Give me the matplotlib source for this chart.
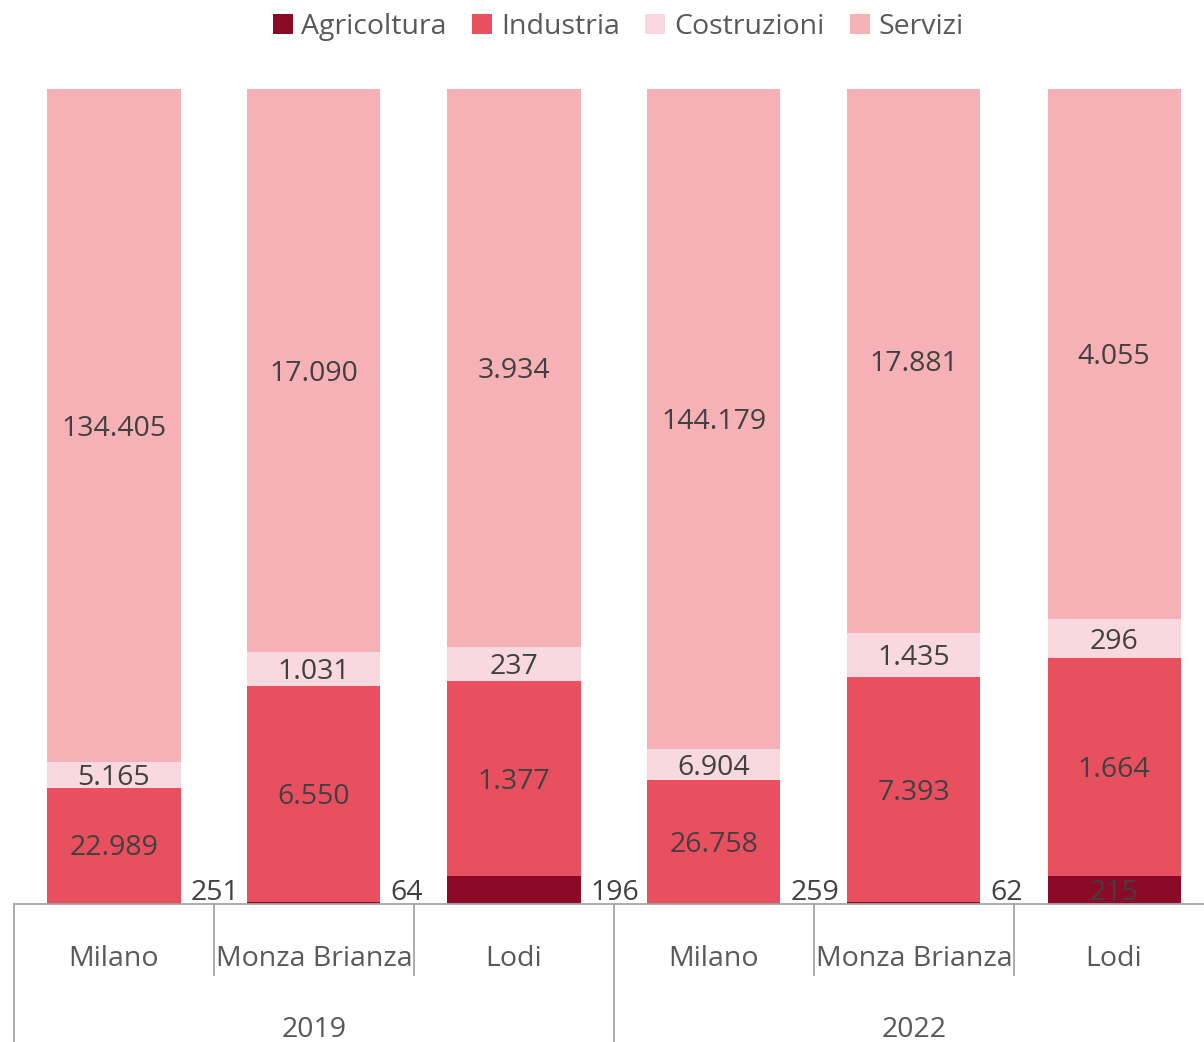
import matplotlib.pyplot as plt
import numpy as np
from matplotlib.patches import Patch
from matplotlib.transforms import blended_transform_factory

plt.rcParams['font.family'] = ['Open Sans', 'DejaVu Sans']

anni = ['2019', '2022']
province = ['Milano', 'Monza Brianza', 'Lodi', 'Milano', 'Monza Brianza', 'Lodi']
settori = ['Agricoltura', 'Industria', 'Costruzioni', 'Servizi']
agricoltura = [251, 64, 196, 259, 62, 215]
industria = [22989, 6550, 1377, 26758, 7393, 1664]
costruzioni = [5165, 1031, 237, 6904, 1435, 296]
servizi = [134405, 17090, 3934, 144179, 17881, 4055]
colori = ['#8B0A28', '#E85060', '#F9D9E0', '#F6B1B6']

serie = np.array([agricoltura, industria, costruzioni, servizi], dtype=float)
quote = serie / serie.sum(axis=0)

W, H = 1204, 1042
fig = plt.figure(figsize=(W / 100, H / 100), dpi=100)
ax = fig.add_axes([14 / W, 138 / H, 1190 / W, 815 / H])
x = np.arange(len(province))
ax.set_xlim(-0.5, 5.45)
ax.set_ylim(0, 1)
ax.axis('off')

fmt = lambda v: f"{v:,}".replace(",", ".")
txt = '#404040'
fs = 20.5
dy = -0.004  # piccolo spostamento verticale delle etichette

base = np.zeros(len(province))
for i, (nome, col) in enumerate(zip(settori, colori)):
    ax.bar(x, quote[i], bottom=base, width=0.665, color=col, linewidth=0)
    for j in range(len(province)):
        v = int(serie[i, j])
        if i == 0 and j != 5:
            ax.text(x[j] + 0.3825, 0.017 + dy, fmt(v), ha='left', va='center',
                    fontsize=fs, color=txt)
        else:
            ax.text(x[j], base[j] + quote[i, j] / 2 + dy, fmt(v), ha='center', va='center',
                    fontsize=fs, color=txt)
    base += quote[i]

# asse categorie a due livelli
tr = blended_transform_factory(ax.transData, ax.transAxes)
grigio = '#A6A6A6'
ax.plot([-0.5, 5.45], [0, 0], color=grigio, lw=1.3, transform=tr, clip_on=False)
for k in range(len(province) + 1):
    xe = k - 0.5
    low = -0.169 if k % 3 == 0 else -0.087
    ax.plot([xe, xe], [0, low], color=grigio, lw=1.3, transform=tr, clip_on=False)
for j, p in enumerate(province):
    ax.text(x[j], -0.068, p, ha='center', va='center', fontsize=fs, color='#595959',
            transform=tr)
for g, a in enumerate(anni):
    ax.text(3 * g + 1, -0.154, a, ha='center', va='center', fontsize=fs, color='#595959',
            transform=tr)

handles = [Patch(facecolor=c, label=s) for s, c in zip(settori, colori)]
fig.legend(handles=handles, loc='center', bbox_to_anchor=(618 / W, 1 - 27 / H), ncol=4,
           frameon=False, fontsize=fs, labelcolor='#595959', handlelength=0.7,
           handleheight=0.7, handletextpad=0.3, columnspacing=0.9)

fig.savefig('out.png', dpi=100)
